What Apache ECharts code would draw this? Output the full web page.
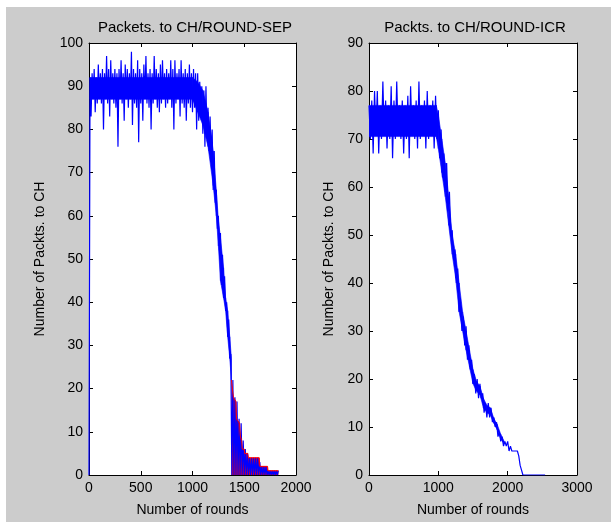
<!DOCTYPE html>
<html lang="en">
<head>
<meta charset="UTF-8">
<title>Packets to CH per round</title>
<script src="https://cdn.jsdelivr.net/npm/echarts@6/dist/echarts.min.js"></script>
<style>
    body { margin: 0; background: #fff; }
    #main { position: absolute; left: 6px; top: 7px; width: 605px; height: 515px; }
</style>
</head>
<body>
<div id="main"></div>
<script>
// SEP: one reading every 10 rounds, starting at round 0
const sepStep = 10;
const sepPackets = [
    0, 92, 83, 93, 87, 94, 84, 92, 86, 95,
    87, 93, 86, 94, 80, 93, 87, 97, 86, 94,
    83, 96, 87, 93, 86, 94, 85, 93, 76, 94,
    87, 96, 86, 93, 82, 95, 87, 94, 85, 93,
    87, 98, 81, 94, 86, 93, 85, 96, 77, 94,
    86, 93, 82, 95, 87, 97, 86, 93, 85, 94,
    80, 93, 86, 97, 87, 94, 85, 93, 84, 95,
    86, 96, 87, 93, 85, 94, 86, 93, 87, 96,
    85, 94, 80, 96, 86, 93, 87, 94, 83, 96,
    86, 93, 85, 94, 82, 93, 86, 95, 85, 93,
    84, 94, 85, 93, 80, 93, 82, 91, 83, 90,
    79, 89, 76, 90, 78, 85, 75, 83, 74, 80,
    66, 75, 63, 66, 57, 60, 52, 56, 44, 51,
    41, 46, 38, 40, 32, 36, 27, 28, 0, 22,
    0, 18, 0, 17, 0, 13, 0, 12, 0, 8,
    0, 6, 0, 5, 0, 4, 0, 4, 0, 4,
    0, 4, 0, 4, 0, 3, 0, 2, 0, 2,
    0, 2, 0, 1, 0, 1, 0, 1, 0, 1,
    0, 1, 0, 1
];
// SEP dense core of the noise band (where the trace is solid blue)
const sepBandRounds = [10, 1000, 1050, 1100, 1150, 1200, 1230, 1250, 1270, 1300, 1320, 1340, 1360, 1376];
const sepBandLow    = [87, 87,   84,   81,   76,   67,   60,   53,   45,   41,   38,   32,   27,   22];
const sepBandHigh   = [92, 92,   91,   89,   84,   75,   66,   59,   55,   48,   41,   38,   32,   27];
// SEP tail: the trace swings down to 0, so it reads as a solid fill under this top
const sepTailRounds = [1376, 1395, 1420, 1425, 1455, 1462, 1475, 1480, 1500, 1505, 1535, 1540, 1645, 1650, 1725, 1730, 1830];
const sepTailTop    = [22,   18,   17,   13,   12,   9,    8,    6,    6,    5,    5,    4,    4,    2,    2,    1,    1];

// ICR: one reading every 20 rounds, starting at round 0
const icrStep = 20;
const icrPackets = [
    77, 70, 78, 67, 80, 71, 80, 67, 77, 70,
    82, 71, 78, 68, 77, 70, 81, 66, 78, 70,
    82, 71, 77, 70, 78, 67, 77, 70, 79, 66,
    81, 71, 77, 70, 78, 68, 82, 70, 77, 71,
    78, 68, 80, 70, 77, 71, 78, 68, 79, 70,
    76, 66, 72, 62, 67, 59, 65, 55, 59, 50,
    51, 45, 47, 40, 43, 34, 36, 30, 33, 27,
    31, 24, 27, 22, 24, 19, 21, 17, 20, 16,
    19, 16, 17, 13, 15, 12, 15, 12, 14, 11,
    12, 10, 11, 8, 9, 7, 8, 6, 7, 6,
    7, 5, 6, 5, 5, 5, 5, 5, 4, 2,
    1, 0, 0, 0, 0, 0, 0, 0, 0, 0,
    0, 0, 0, 0, 0, 0, 0, 0
];
// ICR dense core of the noise band
const icrBandRounds = [0, 970, 1000, 1050, 1100, 1150, 1200, 1250, 1300, 1350, 1400, 1450, 1500, 1550, 1600, 1650, 1700, 1750, 1800, 1850, 1900, 1950];
const icrBandLow    = [70.5, 70.5, 68, 63, 58, 52, 46, 41, 34, 30, 26, 22.5, 19, 17.5, 16.7, 14, 13, 12.5, 10.8, 9.4, 7.5, 6.5];
const icrBandHigh   = [77, 77, 75, 70, 65, 58, 50, 46, 40, 34, 30, 26, 22, 19.5, 18.5, 16, 14.5, 14, 11.8, 10.5, 8.5, 7];

const titles = ['Packets. to CH/ROUND-SEP', 'Packts. to CH/ROUND-ICR'];
const xMax = [2000, 3000];
const xInterval = [500, 1000];
const yMax = [100, 90];
const yInterval = [10, 10];

const font = 'Arial, "Liberation Sans", sans-serif';
const blue = '#0000ff';

function toPairs(values, step) {
    return values.map(function (v, i) { return [i * step, v]; });
}
function zip(xs, ys) {
    return xs.map(function (x, i) { return [x, ys[i]]; });
}

// filled band between low and high, one quad per pair of neighbouring readings
function bandSeries(name, axis, rounds, low, high) {
    var items = [];
    for (let i = 0; i < rounds.length - 1; i++) {
        items.push([rounds[i], low[i], high[i], rounds[i + 1], low[i + 1], high[i + 1]]);
    }
    return {
        name: name, type: 'custom', xAxisIndex: axis, yAxisIndex: axis,
        silent: true, clip: true,
        encode: { x: [0, 3], y: [1, 2, 4, 5] },
        renderItem: function (params, api) {
            var pts = [
                api.coord([api.value(0), api.value(1)]),
                api.coord([api.value(0), api.value(2)]),
                api.coord([api.value(3), api.value(5)]),
                api.coord([api.value(3), api.value(4)])
            ];
            return {
                type: 'polygon',
                shape: { points: pts },
                style: { fill: blue, stroke: blue, lineWidth: 0.6 }
            };
        },
        data: items
    };
}

(function () {
    var myChart = echarts.init(document.getElementById('main'));

    var grids = [
        { left: 83, top: 36, width: 207, height: 434 },
        { left: 363, top: 36, width: 208, height: 434 }
    ];
    var yNameGap = [42, 33];

    var xAxes = [];
    var yAxes = [];
    for (let g = 0; g < 2; g++) {
        grids[g].show = true;
        grids[g].backgroundColor = '#ffffff';
        grids[g].borderWidth = 0;
        // bottom + top x axes, left + right y axes (box with inner ticks)
        ['bottom', 'top'].forEach(function (pos) {
            xAxes.push({
                type: 'value', gridIndex: g, position: pos,
                min: 0, max: xMax[g], interval: xInterval[g],
                name: pos === 'bottom' ? 'Number of rounds' : '',
                nameLocation: 'middle', nameGap: 28,
                nameTextStyle: { fontFamily: font, fontSize: 14, color: '#000' },
                axisLine: { onZero: false, lineStyle: { color: '#000', width: 1 } },
                axisTick: { inside: true, length: 4, lineStyle: { color: '#000' } },
                axisLabel: {
                    show: pos === 'bottom', margin: 6, fontFamily: font, fontSize: 14, color: '#000',
                    formatter: function (v) { return String(v); }
                },
                splitLine: { show: false }
            });
        });
        ['left', 'right'].forEach(function (pos) {
            yAxes.push({
                type: 'value', gridIndex: g, position: pos,
                min: 0, max: yMax[g], interval: yInterval[g],
                name: pos === 'left' ? 'Number of Packts. to CH' : '',
                nameLocation: 'middle', nameGap: yNameGap[g], nameRotate: 90,
                nameTextStyle: { fontFamily: font, fontSize: 14, color: '#000' },
                axisLine: { onZero: false, lineStyle: { color: '#000', width: 1 } },
                axisTick: { inside: true, length: 4, lineStyle: { color: '#000' } },
                axisLabel: {
                    show: pos === 'left', margin: 6, fontFamily: font, fontSize: 14, color: '#000',
                    formatter: function (v) { return String(v); }
                },
                splitLine: { show: false }
            });
        });
    }

    var series = [
        bandSeries('SEP band', 0, sepBandRounds, sepBandLow, sepBandHigh),
        bandSeries('ICR band', 2, icrBandRounds, icrBandLow, icrBandHigh),
        {
            name: 'SEP', type: 'line', xAxisIndex: 0, yAxisIndex: 0,
            symbol: 'none', sampling: 'none',
            lineStyle: { color: blue, width: 1.2 },
            data: toPairs(sepPackets, sepStep)
        },
        {
            name: 'ICR', type: 'line', xAxisIndex: 2, yAxisIndex: 2,
            symbol: 'none', sampling: 'none',
            lineStyle: { color: blue, width: 1.2 },
            data: toPairs(icrPackets, icrStep)
        },
        {
            name: 'SEP tail', type: 'line', xAxisIndex: 0, yAxisIndex: 0,
            symbol: 'none', silent: true, z: 3,
            lineStyle: { color: '#ff0000', width: 1 },
            areaStyle: { color: '#ff0000', opacity: 1, origin: 'start' },
            data: zip(sepTailRounds, sepTailTop)
        }
    ];

    let option = {
        backgroundColor: '#cccccc',
        animation: false,
        title: [
            { text: titles[0], left: 184, top: 8, textAlign: 'center',
              textStyle: { fontFamily: font, fontSize: 15, fontWeight: 'normal', color: '#000' } },
            { text: titles[1], left: 464, top: 8, textAlign: 'center',
              textStyle: { fontFamily: font, fontSize: 15, fontWeight: 'normal', color: '#000' } }
        ],
        grid: grids,
        xAxis: xAxes,
        yAxis: yAxes,
        series: series
    };
    myChart.setOption(option);
})()
</script>
</body>
</html>
